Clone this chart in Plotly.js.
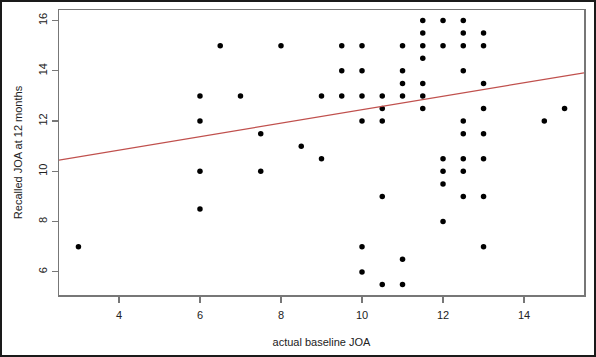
<!DOCTYPE html>
<html>
<head>
<meta charset="utf-8">
<script src="https://cdn.plot.ly/plotly-3.0.1.min.js"></script>
<style>
html,body{margin:0;padding:0;background:#fff;}
#frame{width:596px;height:357px;box-sizing:border-box;border:2px solid #1a1a1a;overflow:hidden;}
#chart{width:592px;height:353px;}
</style>
</head>
<body>
<div id="frame"><div id="chart"></div></div>
<script>
// actual baseline JOA (x) and recalled JOA at 12 months (y)
const baselineJOA = [
  3,
  6, 6, 6, 6,
  6.5,
  7,
  7.5, 7.5,
  8,
  8.5,
  9, 9,
  9.5, 9.5, 9.5,
  10, 10, 10, 10, 10, 10,
  10.5, 10.5, 10.5, 10.5, 10.5,
  11, 11, 11, 11, 11, 11,
  11.5, 11.5, 11.5, 11.5, 11.5, 11.5, 11.5,
  12, 12, 12, 12, 12, 12,
  12.5, 12.5, 12.5, 12.5, 12.5, 12.5, 12.5, 12.5, 12.5,
  13, 13, 13, 13, 13, 13, 13, 13,
  14.5,
  15
];
const recalledJOA = [
  7,
  13, 12, 10, 8.5,
  15,
  13,
  11.5, 10,
  15,
  11,
  13, 10.5,
  15, 14, 13,
  15, 14, 13, 12, 7, 6,
  13, 12.5, 12, 9, 5.5,
  15, 14, 13.5, 13, 6.5, 5.5,
  16, 15.5, 15, 14.5, 13.5, 13, 12.5,
  16, 15, 10.5, 10, 9.5, 8,
  16, 15.5, 15, 14, 12, 11.5, 10.5, 10, 9,
  15.5, 15, 13.5, 12.5, 11.5, 10.5, 9, 7,
  12,
  12.5
];
// fitted regression line, read at the plot edges
const fitX = [2.52, 15.48];
const fitY = [10.45, 13.92];

const xTicks = [4, 6, 8, 10, 12, 14];
const yTicks = [6, 8, 10, 12, 14, 16];

const traces = [
  {
    x: baselineJOA, y: recalledJOA, type: 'scatter', mode: 'markers',
    marker: {color: '#000', size: 5.5},
    hoverinfo: 'x+y'
  },
  {
    x: fitX, y: fitY, type: 'scatter', mode: 'lines',
    line: {color: '#c0504d', width: 1.2}
  }
];

const axisCommon = {
  showgrid: false, zeroline: false,
  showline: true, mirror: true, linecolor: '#777', linewidth: 1.5,
  ticks: 'outside', ticklen: 6, tickcolor: '#777', tickwidth: 1.2,
  tickfont: {family: 'Liberation Sans, Arial, sans-serif', size: 11, color: '#222'}
};

const layout = {
  width: 592, height: 353,
  margin: {l: 57, r: 10, t: 8, b: 60},
  paper_bgcolor: '#fff', plot_bgcolor: '#fff',
  showlegend: false,
  xaxis: Object.assign({}, axisCommon, {
    range: [2.52, 15.48], tickvals: xTicks, ticktext: xTicks.map(String),
    ticklabelstandoff: 3,
    title: {text: 'actual baseline JOA', standoff: 18,
            font: {family: 'Liberation Sans, Arial, sans-serif', size: 11, color: '#222'}}
  }),
  yaxis: Object.assign({}, axisCommon, {
    range: [5.08, 16.42], tickvals: yTicks, ticktext: yTicks.map(String),
    tickangle: -90,
    title: {text: 'Recalled JOA at 12 months', standoff: 12,
            font: {family: 'Liberation Sans, Arial, sans-serif', size: 11, color: '#222'}}
  })
};

Plotly.newPlot('chart', traces, layout, {displayModeBar: false, staticPlot: true});
</script>
</body>
</html>
